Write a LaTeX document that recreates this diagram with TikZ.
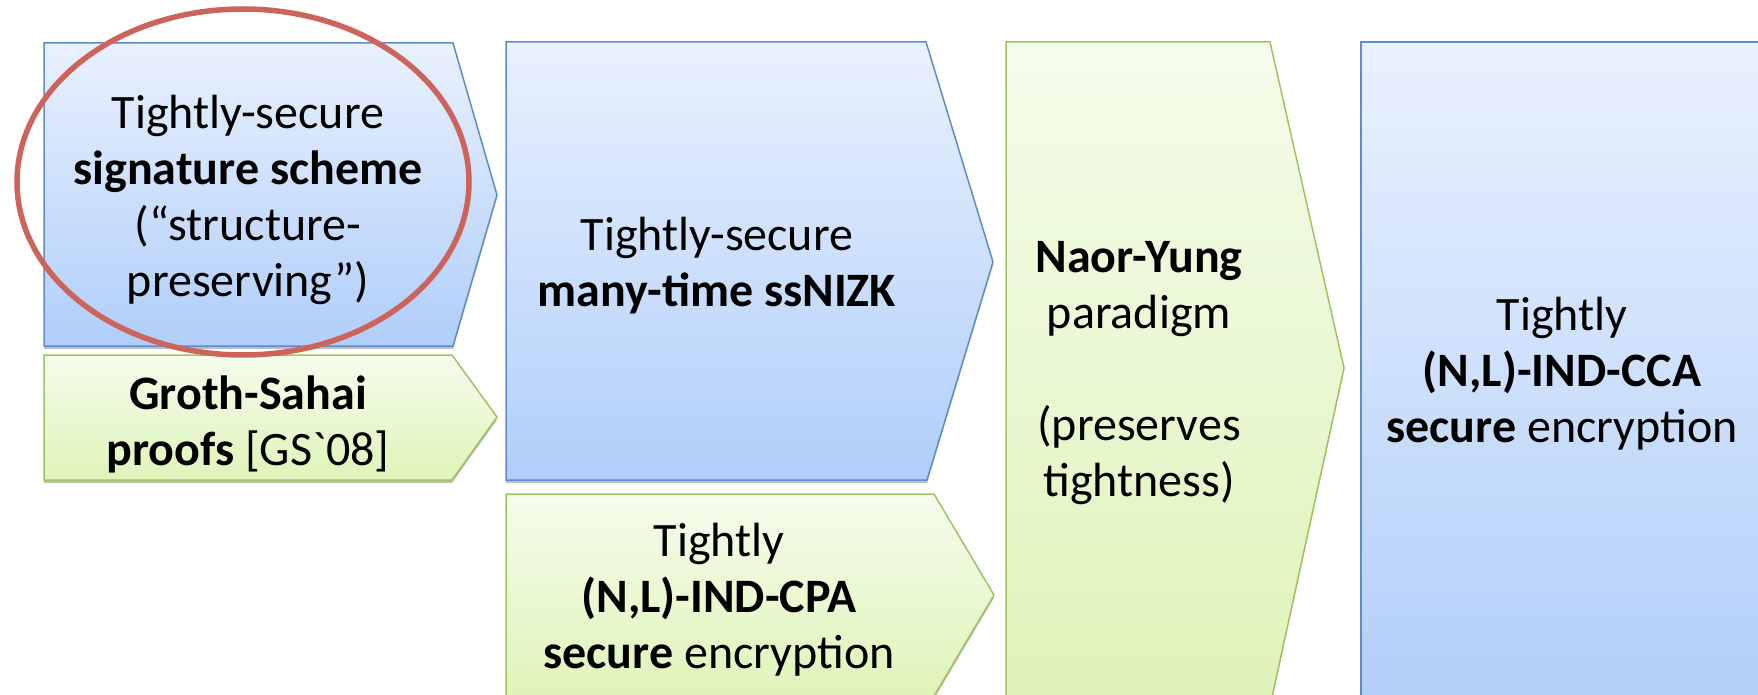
\documentclass[tikz,border=0pt]{standalone}
\usepackage{fontspec}
\newfontfamily\calfont{Carlito}
\usetikzlibrary{shadows}
\definecolor{blueTop}{RGB}{233,241,253}
\definecolor{blueBot}{RGB}{176,206,250}
\definecolor{blueEdge}{RGB}{95,140,200}
\definecolor{greenTop}{RGB}{245,252,236}
\definecolor{greenBot}{RGB}{222,244,185}
\definecolor{greenEdge}{RGB}{160,195,95}
\definecolor{ringRed}{RGB}{205,100,92}
\tikzset{
  bluebox/.style={draw=blueEdge, line width=1.5pt, top color=blueTop, bottom color=blueBot, line join=miter,
    drop shadow={shadow xshift=0pt, shadow yshift=-3pt, opacity=0.25, fill=black}},
  greenbox/.style={draw=greenEdge, line width=1.5pt, top color=greenTop, bottom color=greenBot, line join=miter,
    drop shadow={shadow xshift=0pt, shadow yshift=-3pt, opacity=0.25, fill=black}},
  label/.style={align=center, inner sep=0pt, font=\calfont\fontsize{48}{56}\selectfont},
  ring/.style={draw=ringRed, line width=5.5pt}
}
\begin{document}
\begin{tikzpicture}[x=1pt, y=-1pt]
\useasboundingbox (0,0) rectangle (1758,695);
\clip (0,0) rectangle (1758,695);
% shapes
\path[bluebox] (44,43) -- (453,43) -- (497,195) -- (453,346) -- (44,346) -- cycle;
\path[greenbox] (44,355) -- (452,355) -- (497,417) -- (452,480) -- (44,480) -- cycle;
\path[bluebox] (506,42) -- (926,42) -- (993,262) -- (927,480) -- (506,480) -- cycle;
\path[greenbox] (506,494) -- (934,494) -- (994,595) -- (934,696) -- (506,696) -- cycle;
\path[greenbox] (1006,42) -- (1270,42) -- (1344,368) -- (1272,697) -- (1006,697) -- cycle;
\path[bluebox] (1361,42) -- (1800,42) -- (1800,720) -- (1361,720) -- cycle;
% texts
\node[label] (sig) at (248,200) {Tightly-secure\\\textbf{signature scheme}\\(“structure-\\preserving”)};
\node[label] (gs) at (248,424) {\textbf{Groth-Sahai}\\\textbf{proofs} [GS`08]};
\node[label] (nizk) at (717,266) {Tightly-secure\\\textbf{many-time ssNIZK}};
\node[label] (cpa) at (719,600) {Tightly\\\textbf{(N,L)-IND-CPA}\\\textbf{secure} encryption};
\node[label] (ny) at (1139,373) {\textbf{Naor-Yung}\\paradigm\\[56pt](preserves\\tightness)};
\node[label] (cca) at (1562,374) {Tightly\\\textbf{(N,L)-IND-CCA}\\\textbf{secure} encryption};
% highlight ring
\draw[ring] (243,182) ellipse [x radius=226, y radius=173];
\end{tikzpicture}
\end{document}
